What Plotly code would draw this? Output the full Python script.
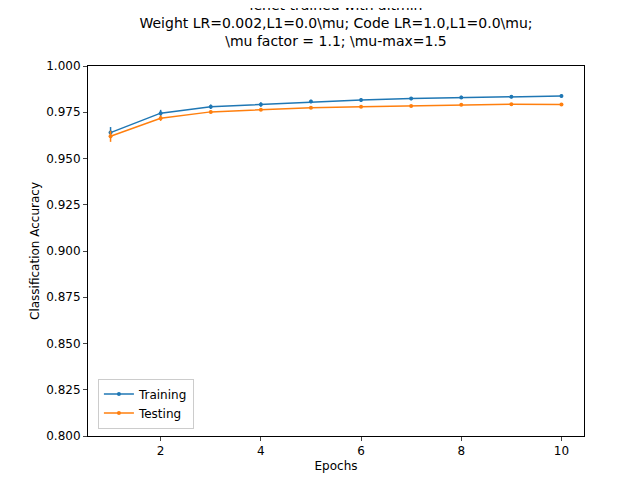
import plotly.graph_objects as go

epochs = [1, 2, 3, 4, 5, 6, 7, 8, 9, 10]
train = [0.964, 0.9745, 0.978, 0.9792, 0.9808, 0.9816, 0.9824, 0.9830, 0.9834, 0.9838]
train_err = [0.003, 0.0018, 0.0012, 0.0012, 0.001, 0.001, 0.0009, 0.0009, 0.0009, 0.0009]
test = [0.962, 0.9718, 0.9752, 0.9764, 0.9775, 0.978, 0.9784, 0.9791, 0.9793, 0.9792]
test_err = [0.003, 0.0015, 0.0008, 0.0006, 0.0005, 0.0005, 0.0005, 0.0004, 0.0004, 0.0004]
yticks = [0.800, 0.825, 0.850, 0.875, 0.900, 0.925, 0.950, 0.975, 1.000]

fig = go.Figure()
fig.add_trace(go.Scatter(x=epochs, y=train, name="Training", mode="lines+markers",
    line=dict(color="#1f77b4", width=1.5), marker=dict(size=4),
    error_y=dict(type="data", array=train_err, color="#1f77b4", thickness=1.5, width=0)))
fig.add_trace(go.Scatter(x=epochs, y=test, name="Testing", mode="lines+markers",
    line=dict(color="#ff7f0e", width=1.5), marker=dict(size=4),
    error_y=dict(type="data", array=test_err, color="#ff7f0e", thickness=1.5, width=0)))

fig.update_layout(
    width=640, height=480, paper_bgcolor="white", plot_bgcolor="white",
    margin=dict(l=80, r=64, t=58, b=52, autoexpand=False),
    font=dict(family="DejaVu Sans", size=12, color="black"),
    title=dict(text="lenet trained with altmin<br>Weight LR=0.002,L1=0.0\\mu; Code LR=1.0,L1=0.0\\mu;<br>\\mu factor = 1.1; \\mu-max=1.5",
               x=0.5, xref="paper", yref="container", y=0.996, yanchor="top", font=dict(size=14),
               automargin=False),
    xaxis=dict(title=dict(text="Epochs", standoff=4, font=dict(size=12)), range=[0.55, 10.45], tickvals=[2, 4, 6, 8, 10],
               showgrid=False, zeroline=False, showline=True, linecolor="black", mirror=True,
               ticks="outside", ticklen=4, automargin=False),
    yaxis=dict(title=dict(text="Classification Accuracy", standoff=4, font=dict(size=12)), range=[0.8, 1.0], tickvals=yticks,
               ticktext=[f"{v:.3f}" for v in yticks],
               showgrid=False, zeroline=False, showline=True, linecolor="black", mirror=True,
               ticks="outside", ticklen=4, automargin=False),
    legend=dict(x=0.02, y=0.02, xanchor="left", yanchor="bottom", bordercolor="#cccccc",
                borderwidth=1, bgcolor="white", font=dict(size=12)),
)
fig.write_html("out.html")
